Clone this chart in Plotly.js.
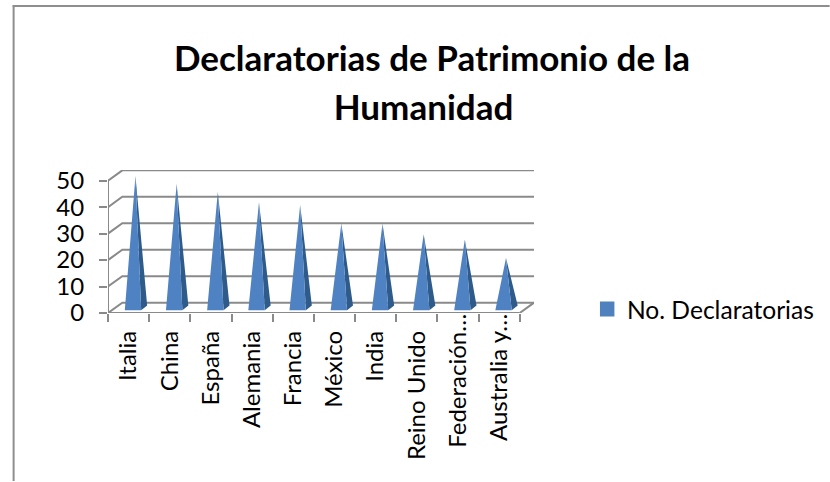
<!DOCTYPE html>
<html>
<head>
<meta charset="utf-8">
<script src="https://cdn.plot.ly/plotly-3.0.1.min.js"></script>
<style>html,body{margin:0;padding:0;background:#fff}#c{width:830px;height:482px}</style>
</head>
<body>
<div id="c"></div>
<script>
var categories = ["Italia","China","España","Alemania","Francia","México","India","Reino Unido","Federación…","Australia y…"];
var seriesValues = [50,47,44,40,39,32,32,28,26,19];
var yTicks = [0,10,20,30,40,50];
var seriesName = "No. Declaratorias";
var titleLines = ["Declaratorias de Patrimonio de la","Humanidad&nbsp;&nbsp;"];
var truncatedFrom = 8;

var FONT = "Lato, Carlito, Calibri, sans-serif";
var GRID = "#8a8a8a", FRONT = "#4f82c3", SIDE = "#2f5b8a";
var depthX = 0.347, depthY = 3.9;
var n = categories.length;
var centers = categories.map(function(_, i){ return i + 0.5; });
var boundaries = []; for (var b = 0; b <= n; b++) boundaries.push(b);

var gx = [], gy = [];
yTicks.forEach(function(v){
  gx.push(0, depthX, n + depthX, null); gy.push(v, v + depthY, v + depthY, null);
});
gx.push(n, n + depthX, null, 0, n, null, 0, 0);
gy.push(0, depthY, null, 0, 0, null, 0, yTicks[yTicks.length - 1]);

var fx = [], fy = [], sx = [], sy = [];
seriesValues.forEach(function(v, i){
  var apexX = i + 0.667, apexY = v + 1.8;
  fx.push(i + 0.408, apexX, i + 0.806, i + 0.408, null);
  fy.push(1.05, apexY, 1.05, 1.05, null);
  sx.push(i + 0.806, apexX, i + 0.951, i + 0.806, null);
  sy.push(1.05, apexY, 2.8, 1.05, null);
});

var traces = [
  {type:"scatter", mode:"lines", x:gx, y:gy, line:{color:GRID, width:2}, cliponaxis:false, hoverinfo:"skip", showlegend:false},
  {type:"scatter", mode:"lines", x:sx, y:sy, fill:"toself", fillcolor:SIDE, line:{width:0}, hoverinfo:"skip", showlegend:false},
  {type:"scatter", mode:"lines", x:fx, y:fy, fill:"toself", fillcolor:FRONT, line:{width:0}, hoverinfo:"skip", showlegend:false},
  {type:"bar", x:[centers[0]], y:[null], name:seriesName, marker:{color:"#4f81bd", line:{color:"#4f81bd", width:3}}, showlegend:true},
  {type:"scatter", mode:"markers", xaxis:"x2", x:centers.slice(0, truncatedFrom), y:seriesValues.slice(0, truncatedFrom), marker:{opacity:0, size:1}, showlegend:false, name:seriesName},
  {type:"scatter", mode:"markers", xaxis:"x3", x:centers.slice(truncatedFrom), y:seriesValues.slice(truncatedFrom), marker:{opacity:0, size:1}, showlegend:false, name:seriesName}
];

var W = 830, H = 482, L = 107.5, R = 534, T = 170, B = 313.5;
var pw = R - L, ph = B - T;
function px(x){ return (x - L) / pw; }
function py(y){ return (B - y) / ph; }

function labelAxis(from, to, standoff){
  return {overlaying:"x", range:[0,n+depthX], side:"bottom", anchor:"y",
          tickvals:centers.slice(from, to), ticktext:categories.slice(from, to), tickangle:-90, ticks:"", ticklen:0, ticklabelstandoff:standoff,
          tickfont:{family:FONT, size:24, color:"#000"}, showgrid:false, zeroline:false, showline:false, fixedrange:true};
}

var layout = {
  width:W, height:H,
  margin:{l:L, r:W-R, t:T, b:H-B, autoexpand:false},
  paper_bgcolor:"#fff", plot_bgcolor:"rgba(0,0,0,0)",
  font:{family:FONT, color:"#000"},
  title:{
    text:titleLines.map(function(t){ return '<span style="font-size:35px">'+t+'</span>'; }).join("<br>"),
    font:{family:FONT, size:38, weight:700, color:"#000"},
    x:432/W, xanchor:"center", xref:"container", y:1-71/H, yanchor:"top"
  },
  xaxis:{range:[0,n+depthX], tickvals:boundaries, ticktext:boundaries.map(function(){return "";}), ticks:"outside", ticklen:8, tickwidth:2, tickcolor:GRID,
         showgrid:false, zeroline:false, showline:false, fixedrange:true},
  xaxis2:labelAxis(0, truncatedFrom, 12),
  xaxis3:labelAxis(truncatedFrom, n, -5),
  yaxis:{range:[0,(B-T)/2.656], tickvals:yTicks, ticktext:yTicks.map(String), ticks:"outside", ticklen:8, tickwidth:2, tickcolor:GRID, ticklabelstandoff:10,
         tickfont:{family:FONT, size:24, color:"#000"}, showgrid:false, zeroline:false, showline:false, fixedrange:true},
  showlegend:true,
  legend:{x:px(600), xanchor:"left", y:py(309.5), yanchor:"middle", font:{family:FONT, size:24.6, color:"#000"}, bgcolor:"rgba(0,0,0,0)", itemwidth:30, indentation:-13},
  shapes:[
    {type:"line", xref:"paper", yref:"paper", x0:px(13), x1:px(13), y0:py(5), y1:py(482), line:{color:"#8e8e8e", width:2}},
    {type:"line", xref:"paper", yref:"paper", x0:px(12), x1:px(830), y0:py(5.5), y1:py(5.5), line:{color:"#8e8e8e", width:2}}
  ]
};
Plotly.newPlot("c", traces, layout, {displayModeBar:false, staticPlot:true});
</script>
</body>
</html>
